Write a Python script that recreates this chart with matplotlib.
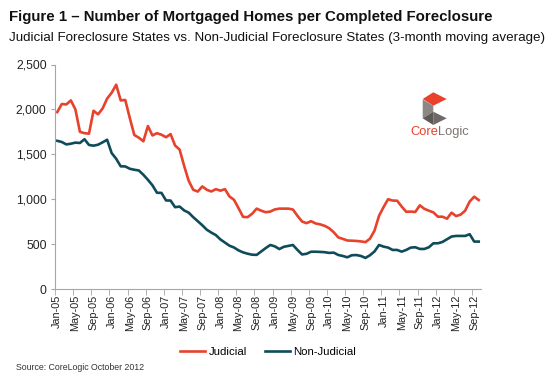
import matplotlib
matplotlib.use("Agg")
import matplotlib.pyplot as plt
from matplotlib.patches import Polygon
from matplotlib.ticker import FuncFormatter
import numpy as np

plt.rcParams['font.family'] = ['Liberation Sans', 'DejaVu Sans']

# months Jan-05 .. Oct-12
months = ['Jan', 'Feb', 'Mar', 'Apr', 'May', 'Jun', 'Jul', 'Aug', 'Sep', 'Oct', 'Nov', 'Dec']
dates = ['%s-%02d' % (months[k % 12], 5 + k // 12) for k in range(94)]

judicial = [1970, 2060, 2055, 2100, 2000, 1750, 1735, 1730, 1985, 1945,
            2010, 2120, 2185, 2275, 2100, 2105, 1905, 1715, 1685, 1645,
            1815, 1710, 1735, 1718, 1690, 1725, 1598, 1552, 1370, 1205,
            1105, 1085, 1142, 1105, 1086, 1112, 1095, 1112, 1030, 993,
            900, 803, 800, 838, 895, 872, 855, 862, 886, 895,
            895, 895, 885, 815, 752, 733, 755, 730, 720, 703,
            677, 632, 575, 558, 540, 538, 535, 530, 522, 560,
            650, 815, 912, 1000, 985, 983, 918, 860, 862, 858,
            932, 893, 872, 853, 805, 805, 783, 850, 812, 828,
            872, 974, 1028, 990]

non_judicial = [1650, 1637, 1610, 1618, 1630, 1626, 1668, 1604, 1596, 1607,
                1633, 1662, 1514, 1450, 1366, 1365, 1339, 1328, 1320, 1272,
                1216, 1155, 1072, 1070, 986, 985, 911, 918, 875, 850,
                800, 755, 710, 660, 628, 600, 552, 517, 482, 462,
                430, 408, 393, 382, 380, 418, 456, 490, 475, 445,
                470, 480, 490, 435, 385, 392, 415, 415, 413, 410,
                402, 405, 379, 368, 353, 376, 378, 368, 346, 376,
                418, 490, 472, 461, 435, 435, 416, 435, 461, 465,
                446, 446, 465, 509, 509, 524, 554, 584, 591, 591,
                591, 610, 528, 528]

red = '#E8412C'
teal = '#0F4B5A'
grey = '#A6A6A6'
W, H = 551, 379

fig = plt.figure(figsize=(W / 100, H / 100), dpi=100)
ax = fig.add_axes([55 / W, 1 - 289 / H, (481 - 55) / W, (289 - 64.5) / H])

x = np.arange(len(dates))
ax.plot(x, judicial, color=red, lw=1.9, label='Judicial')
ax.plot(x, non_judicial, color=teal, lw=1.9, label='Non-Judicial')

ax.set_xlim(-0.5, len(dates) - 0.5)
ax.set_ylim(0, 2500)
ax.set_yticks(range(0, 2501, 500))
ax.yaxis.set_major_formatter(FuncFormatter(lambda v, p: '{:,.0f}'.format(v)))

ax.set_xticks(x[::4])
ax.set_xticklabels(dates[::4], rotation=90)
ax.set_xticks(np.arange(-0.5, len(dates) - 1, 4), minor=True)
ax.tick_params(axis='x', which='major', length=0, labelsize=7.8, colors='#222222', pad=4)
ax.tick_params(axis='x', which='minor', length=4, color=grey)
ax.tick_params(axis='y', length=3, color=grey, labelsize=8.7, labelcolor='#222222', pad=3)

for s in ['top', 'right']:
    ax.spines[s].set_visible(False)
for s in ['left', 'bottom']:
    ax.spines[s].set_color(grey)
    ax.spines[s].set_linewidth(0.8)

fig.legend(loc='center', bbox_to_anchor=(268 / W, 1 - 352 / H), ncol=2, frameon=False,
           fontsize=8.2, handlelength=2.2, columnspacing=1.6, handletextpad=0.3)

fig.text(9 / W, 1 - 17 / H, 'Figure 1 \u2013 Number of Mortgaged Homes per Completed Foreclosure',
         fontsize=10.85, fontweight='bold', va='center', ha='left', color='#111111')
fig.text(9 / W, 1 - 38 / H, 'Judicial Foreclosure States vs. Non-Judicial Foreclosure States (3-month moving average)',
         fontsize=9.6, va='center', ha='left', color='#111111')
fig.text(16 / W, 1 - 368 / H, 'Source: CoreLogic October 2012', fontsize=6.3, va='center',
         ha='left', color='#333333')


# CoreLogic logo
def px(pts):
    return [(a / W, 1 - b / H) for a, b in pts]


fig.patches.append(Polygon(px([(433.3, 92.3), (446.7, 99), (433.3, 105.7), (422.7, 99)]),
                           closed=True, fc=red, ec='none', transform=fig.transFigure))
fig.patches.append(Polygon(px([(422.7, 99.5), (433.3, 105.7), (433.3, 111.7), (422.7, 118.3)]),
                           closed=True, fc='#8C8785', ec='none', transform=fig.transFigure))
fig.patches.append(Polygon(px([(422.7, 118.3), (433.3, 111.7), (433.3, 125)]),
                           closed=True, fc='#5E5856', ec='none', transform=fig.transFigure))
fig.patches.append(Polygon(px([(433.3, 111.7), (446.7, 118.3), (433.3, 125)]),
                           closed=True, fc='#6F6967', ec='none', transform=fig.transFigure))
core = fig.text(410 / W, 1 - 132 / H, 'Core', fontsize=9.3, color=red, ha='left', va='center')
fig.canvas.draw()
bb = core.get_window_extent().transformed(fig.transFigure.inverted())
fig.text(bb.x1, 1 - 132 / H, 'Logic', fontsize=9.3, color='#7A7472', ha='left', va='center')

fig.savefig('out.png', dpi=100)
